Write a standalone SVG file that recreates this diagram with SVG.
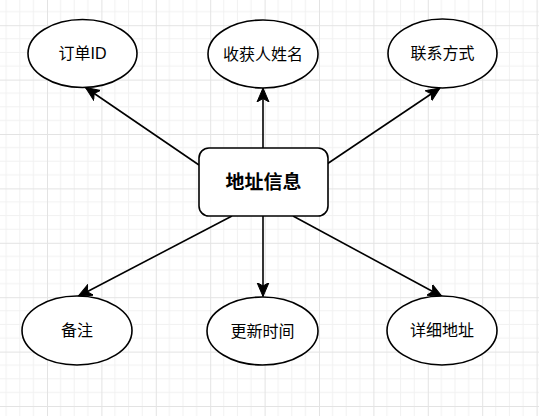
<svg xmlns="http://www.w3.org/2000/svg" width="539" height="416" viewBox="0 0 539 416">
<style>
.node{fill:#ffffff;stroke:#000000;stroke-width:1.6}
.lbl{font-family:"Liberation Sans","Noto Sans CJK SC",sans-serif;font-size:16px;fill:#000000;text-anchor:middle}
.main{font-family:"Liberation Sans","Noto Sans CJK SC",sans-serif;font-size:19px;font-weight:bold;fill:#000000;text-anchor:middle}
.edge{stroke:#000000;stroke-width:1.6;fill:none;marker-end:url(#arr)}
</style>
<defs>
<pattern id="grid" patternUnits="userSpaceOnUse" x="47" y="25.2" width="54.4" height="54.4">
<path d="M13.6 0V54.4M27.2 0V54.4M40.8 0V54.4M0 13.6H54.4M0 27.2H54.4M0 40.8H54.4" stroke="#f1f1f1" stroke-width="1" fill="none"/>
<path d="M0.5 0V54.4M0 0.5H54.4" stroke="#e3e3e3" stroke-width="1" fill="none"/>
</pattern>
<marker id="arr" markerUnits="userSpaceOnUse" markerWidth="16" markerHeight="14" refX="14" refY="6" orient="auto" viewBox="0 0 16 12">
<path d="M0 0 L14 6 L0 12 L3.5 6 Z" fill="#000000" stroke="#000000" stroke-width="1"/>
</marker>
</defs>
<rect width="539" height="416" fill="#ffffff"/>
<rect width="539" height="416" fill="url(#grid)"/>
<g id="connectors">
<line class="edge" x1="199" y1="165" x2="85.5" y2="87.5"/>
<line class="edge" x1="263" y1="148" x2="263" y2="88"/>
<line class="edge" x1="327" y1="164" x2="440" y2="88"/>
<line class="edge" x1="232" y1="216" x2="78" y2="296.5"/>
<line class="edge" x1="263" y1="216" x2="263" y2="296.5"/>
<line class="edge" x1="293" y1="216" x2="442" y2="296.5"/>
</g>
<g id="center">
<rect class="node" x="199" y="148" width="129" height="68" rx="10" ry="10"/>
<text class="main" x="263.5" y="189">地址信息</text>
</g>
<g id="order-id">
<ellipse class="node" cx="82.5" cy="53.5" rx="54.5" ry="34"/>
<text class="lbl" x="82.5" y="59">订单ID</text>
</g>
<g id="receiver-name">
<ellipse class="node" cx="263" cy="54" rx="55" ry="34"/>
<text class="lbl" x="263" y="59.5">收获人姓名</text>
</g>
<g id="contact">
<ellipse class="node" cx="442.5" cy="53.5" rx="54.5" ry="34.5"/>
<text class="lbl" x="442.5" y="59">联系方式</text>
</g>
<g id="remark">
<ellipse class="node" cx="77" cy="330.5" rx="55" ry="34.5"/>
<text class="lbl" x="77" y="336">备注</text>
</g>
<g id="update-time">
<ellipse class="node" cx="262.5" cy="331" rx="55.5" ry="34"/>
<text class="lbl" x="262.5" y="336.5">更新时间</text>
</g>
<g id="address-detail">
<ellipse class="node" cx="442" cy="330.5" rx="55" ry="34.5"/>
<text class="lbl" x="442" y="336">详细地址</text>
</g>
</svg>
